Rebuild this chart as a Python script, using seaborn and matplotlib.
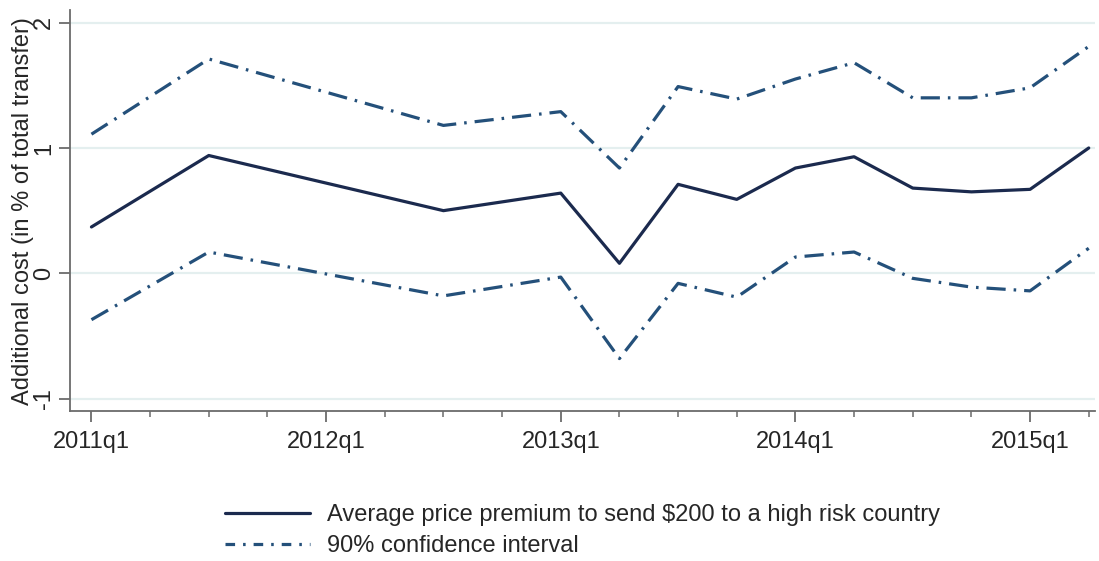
import pandas as pd
import seaborn as sns
import matplotlib.pyplot as plt
from matplotlib.ticker import FixedLocator

# === Data ===
quarters = ["2011q1", "2011q3", "2012q3", "2013q1", "2013q2", "2013q3", "2013q4",
            "2014q1", "2014q2", "2014q3", "2014q4", "2015q1", "2015q2"]
premium = [0.37, 0.94, 0.50, 0.64, 0.08, 0.71, 0.59, 0.84, 0.93, 0.68, 0.65, 0.67, 1.00]
ci_upper = [1.11, 1.71, 1.18, 1.29, 0.84, 1.49, 1.39, 1.55, 1.68, 1.40, 1.40, 1.48, 1.81]
ci_lower = [-0.37, 0.17, -0.18, -0.03, -0.68, -0.08, -0.19, 0.13, 0.17, -0.04, -0.11, -0.14, 0.20]
tick_labels = ["2011q1", "2012q1", "2013q1", "2014q1", "2015q1"]

label_main = "Average price premium to send $200 to a high risk country"
label_ci = "90% confidence interval"


def qindex(q):
    # quarters since 2011q1
    return (int(q[:4]) - 2011) * 4 + int(q[-1]) - 1


t = [qindex(q) for q in quarters]
df = pd.DataFrame({"t": t * 3,
                   "value": premium + ci_upper + ci_lower,
                   "series": ["main"] * len(t) + ["upper"] * len(t) + ["lower"] * len(t)})

# === Plot ===
sns.set_theme(style="white")
plt.rcParams["font.family"] = ["Liberation Sans", "DejaVu Sans"]

navy = "#1b2a4e"
steel = "#24507a"
grid_c = "#e4efef"
axis_c = "#6b6b6b"
fs = 17

fig = plt.figure(figsize=(10.99, 5.61), dpi=100)
ax = fig.add_axes([0.064, 0.267, 0.932, 0.715])

for y in [-1, 0, 1, 2]:
    ax.axhline(y, color=grid_c, lw=1.6, zorder=0)

sns.lineplot(data=df[df["series"] == "main"], x="t", y="value", ax=ax,
             color=navy, lw=2.3, label=label_main)
sns.lineplot(data=df[df["series"] == "upper"], x="t", y="value", ax=ax,
             color=steel, lw=2.3, label=label_ci)
sns.lineplot(data=df[df["series"] == "lower"], x="t", y="value", ax=ax,
             color=steel, lw=2.3, label="_nolegend_")
for line in ax.get_lines()[-2:]:
    line.set_dashes((6, 2.5, 0.8, 2.5))

ax.set_xlim(-0.36, 17.1)
ax.set_ylim(-1.1, 2.1)
ax.set_yticks([-1, 0, 1, 2])
ax.set_yticklabels(["-1", "0", "1", "2"], rotation=90, va="center", fontsize=fs)
ax.set_xticks([0, 4, 8, 12, 16])
ax.set_xticklabels(tick_labels, fontsize=fs)
ax.xaxis.set_minor_locator(FixedLocator(range(0, 18)))
ax.tick_params(axis="both", which="major", direction="out", length=8, width=1.3,
               color=axis_c, bottom=True, left=True)
ax.tick_params(axis="x", which="major", pad=6)
ax.tick_params(axis="y", which="major", pad=3)
ax.tick_params(axis="x", which="minor", direction="out", length=4, width=1.1,
               color=axis_c, bottom=True)
ax.set_xlabel("")
ax.set_ylabel("Additional cost (in % of total transfer)", fontsize=fs, labelpad=-1)

sns.despine(ax=ax)
for s in ["left", "bottom"]:
    ax.spines[s].set_color(axis_c)
    ax.spines[s].set_linewidth(1.3)

leg = ax.legend(loc="center", bbox_to_anchor=(0.5, -0.298), frameon=False,
                fontsize=fs, handlelength=3.6, labelspacing=0.4, handletextpad=0.7)
leg.get_lines()[1].set_dashes((3, 2.5, 0.8, 2.5))

plt.savefig("out.png", dpi=100)
